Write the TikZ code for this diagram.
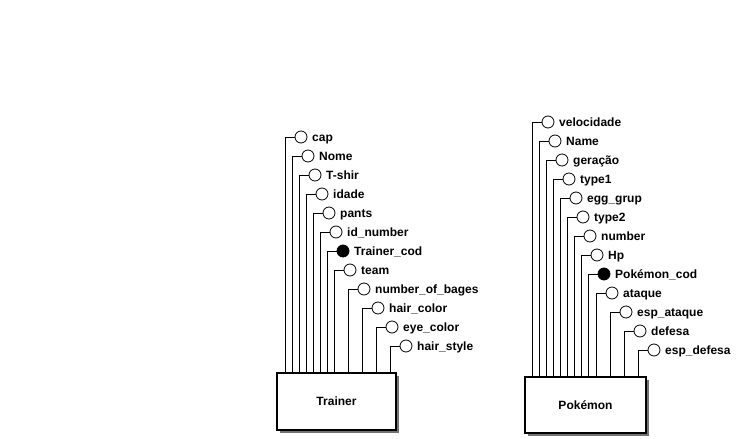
\documentclass[tikz,border=0pt]{standalone}
\usepackage{fontspec}
\setmainfont{Liberation Sans}
\begin{document}
\begin{tikzpicture}[x=1pt,y=-1pt,
  entity/.style={draw=black,line width=1.3pt,fill=white,inner sep=0pt,
     font=\fontsize{12}{14}\selectfont\bfseries},
  shadowbox/.style={fill=black!55,draw=none},
  attr/.style={circle,draw=black,line width=0.8pt,fill=white,minimum size=12pt,inner sep=0pt},
  keyattr/.style={attr,fill=black},
  lbl/.style={anchor=west,inner sep=0pt,text height=8.6pt,text depth=2.6pt,
     font=\fontsize{12}{14}\selectfont\bfseries},
  conn/.style={draw=black,line width=0.8pt}]
\useasboundingbox (0,0) rectangle (740,439);
% shadows
\fill[shadowbox] (280,376) rectangle (399,433);
\fill[shadowbox] (528,380) rectangle (649,436);
% entities
\node[entity,minimum width=119pt,minimum height=57pt] (trainer) at (336.5,401.5) {Trainer};
\node[entity,minimum width=121pt,minimum height=56pt] (pokemon) at (585.5,405) {Pokémon};
% Trainer attributes
\foreach \n/\lx/\y/\t/\k in {
  t1/285/137/cap/attr,
  t2/292/156/Nome/attr,
  t3/299/175/T-shir/attr,
  t4/306/194/idade/attr,
  t5/313/213/pants/attr,
  t6/320/232/id\_number/attr,
  t7/327/251/Trainer\_cod/keyattr,
  t8/334/270/team/attr,
  t9/348/289/number\_of\_bages/attr,
  t10/362/308/hair\_color/attr,
  t11/376/327/eye\_color/attr,
  t12/390/346/hair\_style/attr}{
  \node[\k] (\n) at (\lx+16,\y) {};
  \node[lbl] (\n l) at (\lx+27,\y+1) {\t};
  \draw[conn] (trainer.north west -| \lx,0) |- (\n.west);
}
% Pokemon attributes
\foreach \n/\lx/\y/\t/\k in {
  p1/532/122/velocidade/attr,
  p2/539/141/Name/attr,
  p3/546/160/geração/attr,
  p4/553/179/type1/attr,
  p5/560/198/egg\_grup/attr,
  p6/567/217/type2/attr,
  p7/574/236/number/attr,
  p8/581/255/Hp/attr,
  p9/588/274/Pokémon\_cod/keyattr,
  p10/596/293/ataque/attr,
  p11/610/312/esp\_ataque/attr,
  p12/624/331/defesa/attr,
  p13/638/350/esp\_defesa/attr}{
  \node[\k] (\n) at (\lx+16,\y) {};
  \node[lbl] (\n l) at (\lx+27,\y+1) {\t};
  \draw[conn] (pokemon.north west -| \lx,0) |- (\n.west);
}
\end{tikzpicture}
\end{document}
